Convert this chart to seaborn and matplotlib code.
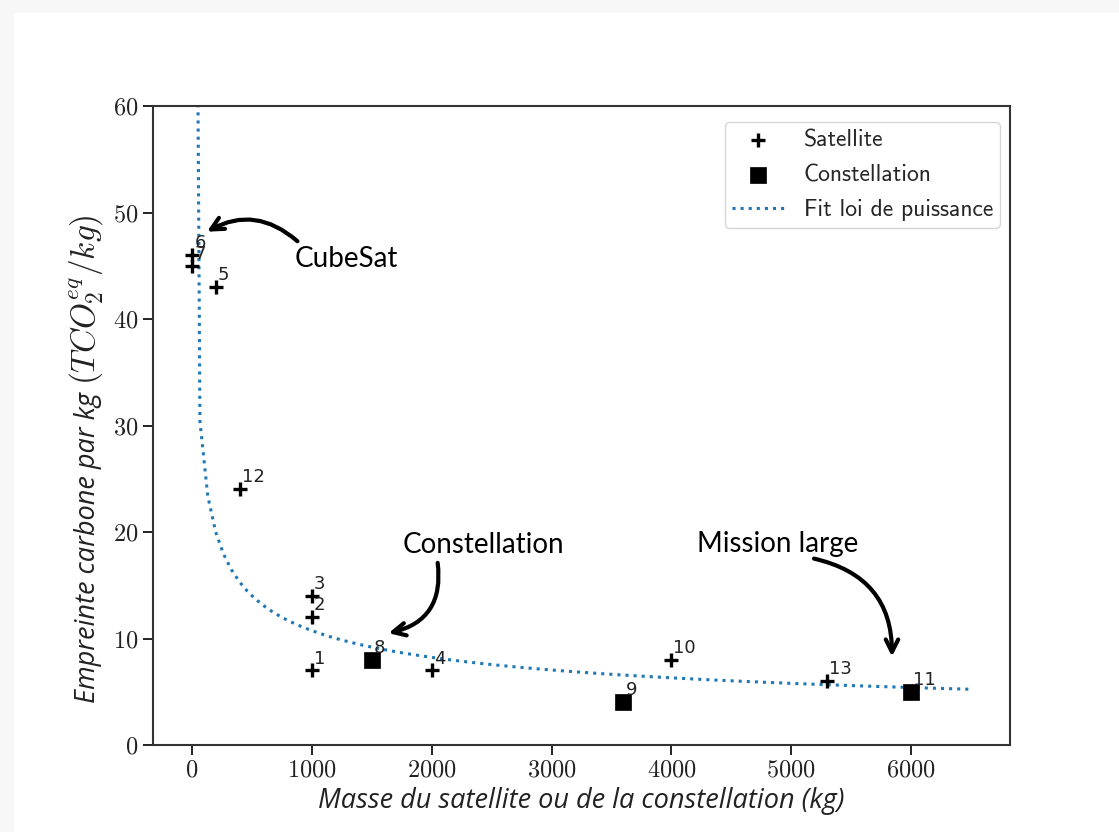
import numpy as np
import pandas as pd
import matplotlib
matplotlib.use("Agg")
import matplotlib.pyplot as plt
import seaborn as sns
from matplotlib.patches import Rectangle

# ==========================================
# Données
# ==========================================
sat_ids = [1, 2, 3, 4, 5, 6, 7, 10, 12, 13]
sat_masse = [1000, 1000, 1000, 2000, 200, 4, 1, 4000, 400, 5300]
sat_empreinte = [7, 12, 14, 7, 43, 46, 45, 8, 24, 6]

const_ids = [8, 9, 11]
const_masse = [1500, 3600, 6000]
const_empreinte = [8, 4, 5]

# fit loi de puissance  y = a * x^b
fit_a = 152.4
fit_b = -0.384
fit_xmin, fit_xmax, fit_n = 1, 6500, 100

notes = ["CubeSat", "Constellation", "Mission large"]
notes_pos = [(1290, 45.6), (2430, 18.8), (4890, 18.9)]
fleches_depart = [(880, 47.3), (2050, 17.1), (5190, 17.5)]
fleches_arrivee = [(125, 48.2), (1640, 10.5), (5840, 8.3)]
fleches_rad = [0.35, -0.45, -0.4]

xlabel = "Masse du satellite ou de la constellation (kg)"
ylabel_texte = "Empreinte carbone par kg "
ylabel_unite = r"$(TCO_2^{eq}/kg)$"

sats = pd.DataFrame({"masse": sat_masse, "empreinte": sat_empreinte, "id": sat_ids})
consts = pd.DataFrame({"masse": const_masse, "empreinte": const_empreinte, "id": const_ids})
fit_x = np.linspace(fit_xmin, fit_xmax, fit_n)
fit = pd.DataFrame({"masse": fit_x, "empreinte": fit_a * fit_x ** fit_b})

# ==========================================
# Style
# ==========================================
sns.set_style("ticks")
plt.rcParams["mathtext.fontset"] = "cm"
plt.rcParams["axes.formatter.use_mathtext"] = True
plt.rcParams["font.family"] = ["DejaVu Sans"]

W, H = 1119, 832
fig = plt.figure(figsize=(W / 100, H / 100), dpi=100)
fig.patch.set_facecolor("#f7f7f7")
fig.patches.append(Rectangle((14 / W, 0), 1, 1 - 13 / H, transform=fig.transFigure,
                             facecolor="white", edgecolor="none", zorder=-10))
ax = fig.add_axes([153 / W, 1 - 745 / H, (1010 - 153) / W, (745 - 106) / H])
ax.set_zorder(5)

sns.lineplot(data=fit, x="masse", y="empreinte", ax=ax, color="#1f77b4",
             linestyle=":", linewidth=2.2, label="Fit loi de puissance", zorder=2)
sns.scatterplot(data=sats, x="masse", y="empreinte", ax=ax, marker="+", s=115,
                color="black", linewidth=2.4, label="Satellite", zorder=3)
sns.scatterplot(data=consts, x="masse", y="empreinte", ax=ax, marker="s", s=130,
                color="black", edgecolor="black", linewidth=0.5, label="Constellation", zorder=3)

# numéros des points
for df in (sats, consts):
    for _, r in df.iterrows():
        ax.annotate(str(int(r["id"])), (r["masse"], r["empreinte"]), xytext=(1.5, 5),
                    textcoords="offset points", fontsize=13, color="#222222", zorder=4)

# annotations "à la main"
for txt, pos in zip(notes, notes_pos):
    ax.text(pos[0], pos[1], txt, fontsize=20, family="Lato",
            ha="center", va="center", color="black")
for dep, arr, rad in zip(fleches_depart, fleches_arrivee, fleches_rad):
    ax.annotate("", xy=arr, xytext=dep,
                arrowprops=dict(arrowstyle="->,head_length=0.9,head_width=0.45", lw=3,
                                color="black", connectionstyle=f"arc3,rad={rad}",
                                shrinkA=0, shrinkB=0))

ax.set_xlim(-325, 6825)
ax.set_ylim(0, 60)
ax.set_xticks([0, 1000, 2000, 3000, 4000, 5000, 6000])
ax.set_yticks([0, 10, 20, 30, 40, 50, 60])
for lab in ax.get_xticklabels() + ax.get_yticklabels():
    lab.set_family("cmr10")
    lab.set_fontsize(17.5)
ax.tick_params(length=7, width=1.4, color="#222222", labelcolor="#222222")
for sp in ax.spines.values():
    sp.set_visible(True)
    sp.set_linewidth(1.5)
    sp.set_color("#333333")

ax.set_xlabel(xlabel, fontsize=19.5, family="Open Sans", style="italic",
              color="#222222", labelpad=4)
ax.set_ylabel("")

# label Y en deux morceaux (unité en math plus grande, comme sur l'original)
ybase_x, ybase_y = 95, H - 703
t1 = fig.text(ybase_x / W, ybase_y / H, ylabel_texte, rotation=90, rotation_mode="anchor",
              ha="left", va="baseline", fontsize=19.5, family="Open Sans",
              style="italic", color="#222222")
fig.canvas.draw()
h1 = t1.get_window_extent(fig.canvas.get_renderer()).height
fig.text(ybase_x / W, (ybase_y + h1) / H, ylabel_unite, rotation=90, rotation_mode="anchor",
         ha="left", va="baseline", fontsize=24, color="#222222")

h, l = ax.get_legend_handles_labels()
order = [l.index("Satellite"), l.index("Constellation"), l.index("Fit loi de puissance")]
ax.legend([h[i] for i in order], [l[i] for i in order], loc="upper right",
          bbox_to_anchor=(1 - 10 / 857, 1 - 16 / 639), borderaxespad=0,
          prop={"family": "cmss10", "size": 17}, frameon=True, edgecolor="#cccccc",
          fancybox=True, borderpad=0.3, labelspacing=0.55, handlelength=2.25,
          handletextpad=0.8)

fig.savefig("out.png", dpi=100, facecolor=fig.get_facecolor())
